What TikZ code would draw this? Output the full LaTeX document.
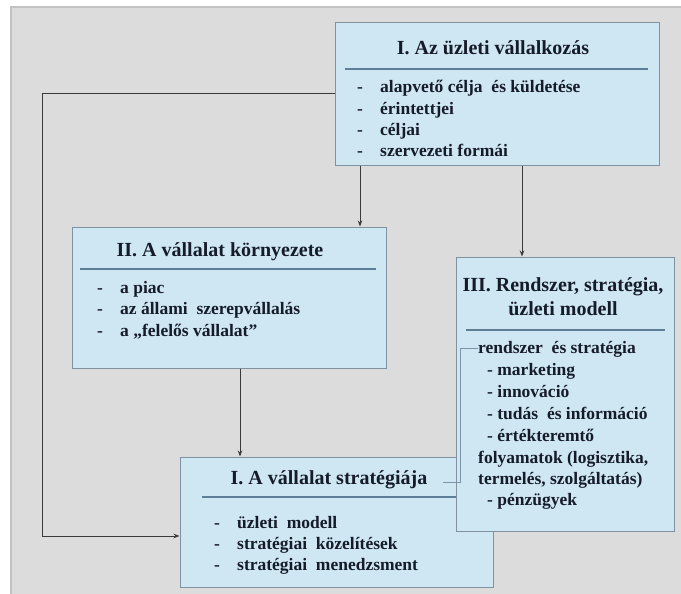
\documentclass[tikz,border=0pt]{standalone}
\usepackage{fontspec}
\setmainfont{Liberation Serif}[BoldFont={Liberation Serif Bold}]
\usetikzlibrary{arrows.meta}
\definecolor{bgc}{HTML}{DCDCDC}
\definecolor{bgborder}{HTML}{C2C2C2}
\definecolor{boxfill}{HTML}{CFE7F3}
\definecolor{boxborder}{HTML}{8092A2}
\definecolor{rulec}{HTML}{5F7F96}
\definecolor{txt}{HTML}{161B2A}
\definecolor{linec}{HTML}{3A3A3A}
\definecolor{faintc}{HTML}{7F93A6}
\tikzset{
  panel/.style={draw=boxborder, fill=boxfill, line width=1pt, inner sep=0pt},
  ttl/.style={font=\fontsize{20}{24}\bfseries\selectfont, text=txt, inner sep=0pt, align=center},
  itm/.style={font=\fontsize{17.5}{21}\bfseries\selectfont, text=txt, inner sep=0pt, anchor=base west},
  rul/.style={draw=rulec, line width=1.5pt},
  arr/.style={draw=linec, line width=0.9pt, -{Stealth[length=6pt,width=4.5pt]}},
  faint/.style={draw=faintc, line width=0.9pt}
}
\newcommand{\dsh}[1]{\makebox[23pt][l]{-}#1}
\begin{document}
\begin{tikzpicture}[x=1pt,y=-1pt]
\useasboundingbox (0,0) rectangle (681,594);
\fill[white] (0,0) rectangle (681,594);
\filldraw[fill=bgc, draw=bgborder, line width=1.2pt] (11,7) rectangle (690,600);

% Box 1
\node[panel, minimum width=324pt, minimum height=142pt] (b1) at (497,94) {};
\node[ttl] (b1t) at (493,48) {I. Az üzleti vállalkozás};
\draw[rul] (345,69) -- (648,69);
\foreach \t [count=\i] in {{alapvető célja~ és küldetése},{érintettjei},{céljai},{szervezeti formái}}
  \node[itm] (b1i\i) at (357,{93+21.3*(\i-1)}) {\dsh{\t}};

% Box 2
\node[panel, minimum width=314pt, minimum height=141pt] (b2) at (229,297.5) {};
\node[ttl] (b2t) at (220,252) {II. A vállalat környezete};
\draw[rul] (80,269) -- (376,269);
\foreach \t [count=\i] in {{a piac},{az állami~ szerepvállalás},{a „felelős vállalat”}}
  \node[itm] (b2i\i) at (97,{293+21.5*(\i-1)}) {\dsh{\t}};

% Box 4
\node[panel, minimum width=313pt, minimum height=130pt] (b4) at (336.5,522) {};
\node[ttl] (b4t) at (329,480) {I. A vállalat stratégiája};
\draw[rul] (202,497) -- (470,497);
\foreach \t [count=\i] in {{üzleti~ modell},{stratégiai~ közelítések},{stratégiai~ menedzsment}}
  \node[itm] (b4i\i) at (214,{528+21.3*(\i-1)}) {\dsh{\t}};

% Box 3
\node[panel, minimum width=218pt, minimum height=274pt] (b3) at (565,394) {};
\node[ttl] (b3t) at (563,297) {III. Rendszer, stratégia,\\üzleti modell};
\draw[rul] (466,330) -- (665,330);
\node[itm] (b3a) at (478,353.5) {rendszer~ és stratégia};
\node[itm] (b3b) at (487,375.5) {- marketing};
\node[itm] (b3c) at (487,397.5) {- innováció};
\node[itm] (b3d) at (487,419.5) {- tudás~ és információ};
\node[itm] (b3e) at (487,441) {- értékteremtő};
\node[itm] (b3f) at (478,463.5) {folyamatok (logisztika,};
\node[itm] (b3g) at (478,484) {termelés, szolgáltatás)};
\node[itm] (b3h) at (487,505.5) {- pénzügyek};

% faint bracket from box 4 title to box 3 text
\coordinate (f1) at (443,482);
\coordinate (f2) at (460,482);
\coordinate (f3) at (460,348);
\draw[faint] (f1) -- (f2) -- (f3) -- (b3a.west |- f3);

% connectors
\coordinate (c1) at (360,0);
\coordinate (c2) at (522,0);
\coordinate (c3) at (240,0);
\coordinate (l1) at (42,93);
\coordinate (l2) at (42,536);
\draw[arr] (b1.south -| c1) -- (b2.north -| c1);
\draw[arr] (b1.south -| c2) -- (b3.north -| c2);
\draw[arr] (b2.south -| c3) -- (b4.north -| c3);
\draw[arr] (b1.west |- l1) -- (l1) -- (l2) -- (b4.west |- l2);
\end{tikzpicture}
\end{document}
